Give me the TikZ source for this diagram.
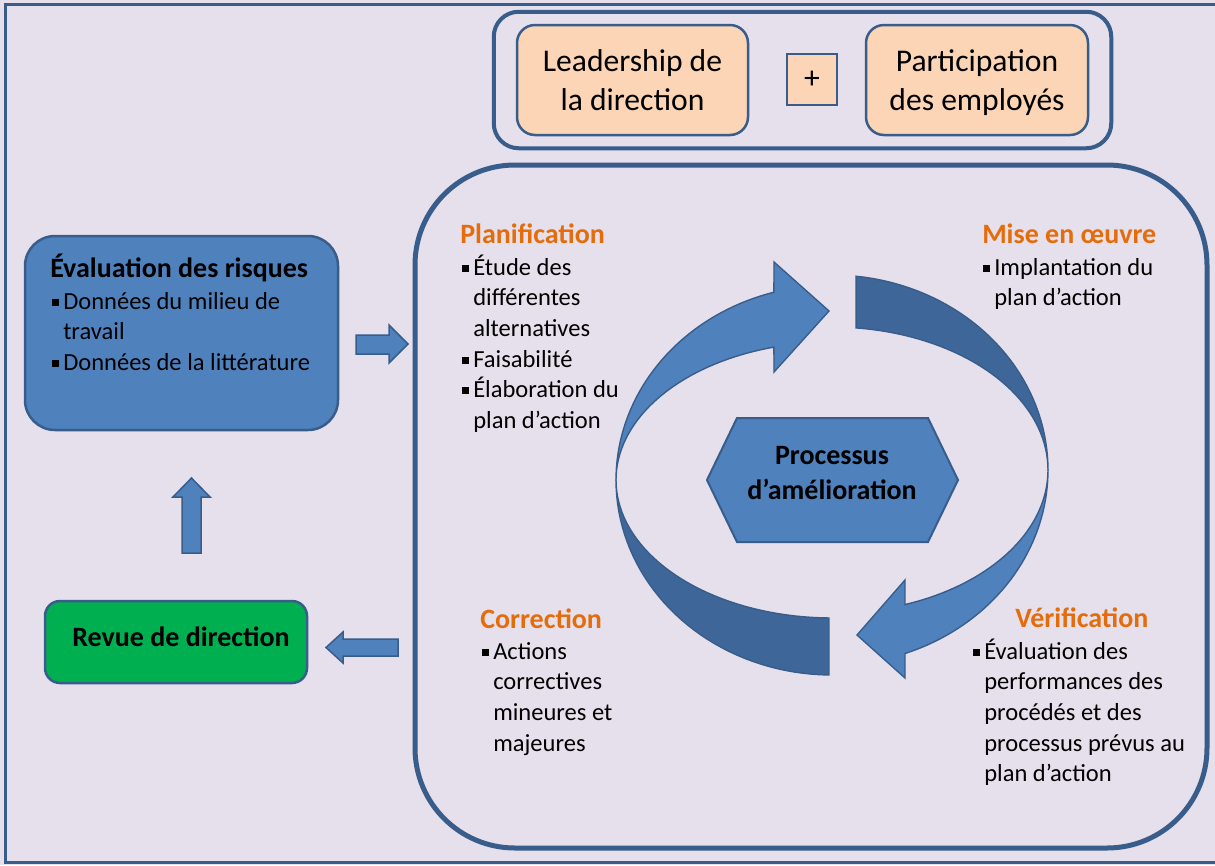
\documentclass[tikz,border=0pt]{standalone}
\usepackage{fontspec}
\setmainfont{Carlito}
\usetikzlibrary{fit}

\definecolor{fond}{HTML}{E5E0EC}
\definecolor{trait}{HTML}{385D8A}
\definecolor{bleu}{HTML}{4F81BD}
\definecolor{bleufonce}{HTML}{3E6699}
\definecolor{peche}{HTML}{FBD5B5}
\definecolor{vert}{HTML}{00B050}
\definecolor{titreorange}{HTML}{E46C0A}

\newlength{\upx}\setlength{\upx}{0.75pt}
\newcommand{\corps}{\fontsize{18.4pt}{23pt}\selectfont}
\newcommand{\titre}{\fontsize{21pt}{26.25pt}\selectfont\bfseries}
\newcommand{\haut}{\fontsize{23.7pt}{29.25pt}\selectfont}
\newcommand{\puce}{\makebox[11\upx][l]{\rule[3.5\upx]{7\upx}{7\upx}}}
\newcommand{\retrait}{\hspace*{11\upx}}

\begin{document}
\begin{tikzpicture}[x=0.75pt, y=-0.75pt,
	boite/.style={draw=trait, line width=2.5\upx, rounded corners=30\upx},
	peche/.style={boite, fill=peche, rounded corners=18\upx, minimum height=110\upx, align=center, font=\haut},
	groupe/.style={draw=trait, line width=4\upx, rounded corners=25\upx, inner xsep=22\upx, inner ysep=12\upx},
	cadre/.style={draw=trait, line width=5\upx, rounded corners=100\upx},
	fleche/.style={fill=bleu, draw=trait, line width=1.5\upx},
	anneau/.style={draw=trait, line width=1.4\upx},
	phase/.style={anchor=base west, inner sep=0pt, font=\titre, text=titreorange},
	liste/.style={anchor=north west, inner sep=0pt, align=left, font=\corps}]

	\useasboundingbox (0,0) rectangle (1215,865);
	\fill[fond] (0,0) rectangle (1215,865);
	\draw[trait, line width=3\upx] (5,4.5) rectangle (1222,862.5);

	% leadership + participation
	\node[peche, minimum width=231\upx] (lead) at (632.5,80) {Leadership de\\la direction};
	\node[boite, fill=peche, rounded corners=0pt, minimum width=50\upx, minimum height=51\upx, font=\haut] (plus) at (812,79.5) {+};
	\node[peche, minimum width=222\upx] (part) at (977,80) {Participation\\\raisebox{0pt}[\height][0pt]{des employés}};
	\node[groupe, fit=(lead)(part)] (grp) {};

	% grand cadre
	\draw[cadre] (415,165) rectangle (1207,848);

	% evaluation des risques
	\node[boite, fill=bleu, minimum width=313\upx, minimum height=194\upx] (eval) at (181.5,333) {};
	\node[anchor=base west, inner sep=0pt, font=\titre] (evalt) at (50,277) {Évaluation des risques};
	\node[liste] (evall) at (52,287.5) {\strut\puce Données du milieu de\\\retrait travail\\\puce Données de la littérature};

	% revue de direction
	\node[boite, fill=vert, rounded corners=15\upx, minimum width=262\upx, minimum height=82\upx] (revue) at (176,642) {};
	\node[font=\titre] (revuet) at ([xshift=5\upx, yshift=5\upx]revue.center) {Revue de direction};

	% fleches pleines
	\draw[fleche] (356,335) -- (389,335) -- (389,325) -- (408,344) -- (389,363) -- (389,354) -- (356,354) -- cycle;
	\draw[fleche] (182,553) -- (182,497) -- (173,497) -- (191.5,478) -- (210,497) -- (201,497) -- (201,553) -- cycle;
	\draw[fleche] (398,639) -- (343,639) -- (343,632) -- (326,647.5) -- (343,663) -- (343,656) -- (398,656) -- cycle;

	% fleches circulaires
	\filldraw[anneau, fill=bleufonce] plot[domain=180:269.2, samples=40, variable=\ang] ({832+216*cos(\ang)}, {480-195*sin(\ang)})
		-- plot[domain=269.2:180, samples=40, variable=\ang] ({832+216*cos(\ang)}, {480-138*sin(\ang)}) -- cycle;
	\filldraw[anneau, fill=bleufonce] plot[domain=83.6:0, samples=40, variable=\ang] ({832+216*cos(\ang)}, {470-195*sin(\ang)})
		-- plot[domain=0:83.6, samples=40, variable=\ang] ({832+216*cos(\ang)}, {470-143*sin(\ang)}) -- cycle;
	\filldraw[anneau, fill=bleu] plot[domain=180:105.6, samples=40, variable=\ang] ({832+216*cos(\ang)}, {480-195*sin(\ang)})
		-- (774,262) -- (829,311) -- (774,372)
		-- plot[domain=105.6:180, samples=40, variable=\ang] ({832+216*cos(\ang)}, {480-138*sin(\ang)}) -- cycle;
	\filldraw[anneau, fill=bleu] plot[domain=360:289.75, samples=40, variable=\ang] ({832+216*cos(\ang)}, {470-195*sin(\ang)})
		-- (905,678) -- (857,635) -- (905,580)
		-- plot[domain=289.75:360, samples=40, variable=\ang] ({832+216*cos(\ang)}, {470-143*sin(\ang)}) -- cycle;

	% processus
	\draw[fill=bleu, draw=trait, line width=2\upx] (707,480) -- (737,418) -- (928,418) -- (958,480) -- (928,542) -- (737,542) -- cycle;
	\node[font=\titre, align=center] (proc) at (832,473) {Processus\\d’amélioration};

	% etapes
	\node[phase] (plan) at (460,243) {Planification};
	\node[liste] (planl) at (462,253.5) {\strut\puce Étude des\\\retrait différentes\\\retrait alternatives\\\puce Faisabilité\\\puce Élaboration du\\\retrait plan d’action};
	\node[phase] (mise) at (982,243) {Mise en œuvre};
	\node[liste] (misel) at (983,253.5) {\strut\puce Implantation du\\\retrait plan d’action};
	\node[phase] (corr) at (480,628) {Correction};
	\node[liste] (corrl) at (482,637.5) {\strut\puce Actions\\\retrait correctives\\\retrait mineures et\\\retrait majeures};
	\node[phase] (verif) at (1015,627) {Vérification};
	\node[liste] (verifl) at (973,637.5) {\strut\puce Évaluation des\\\retrait performances des\\\retrait procédés et des\\\retrait processus prévus au\\\retrait plan d’action};
\end{tikzpicture}
\end{document}
